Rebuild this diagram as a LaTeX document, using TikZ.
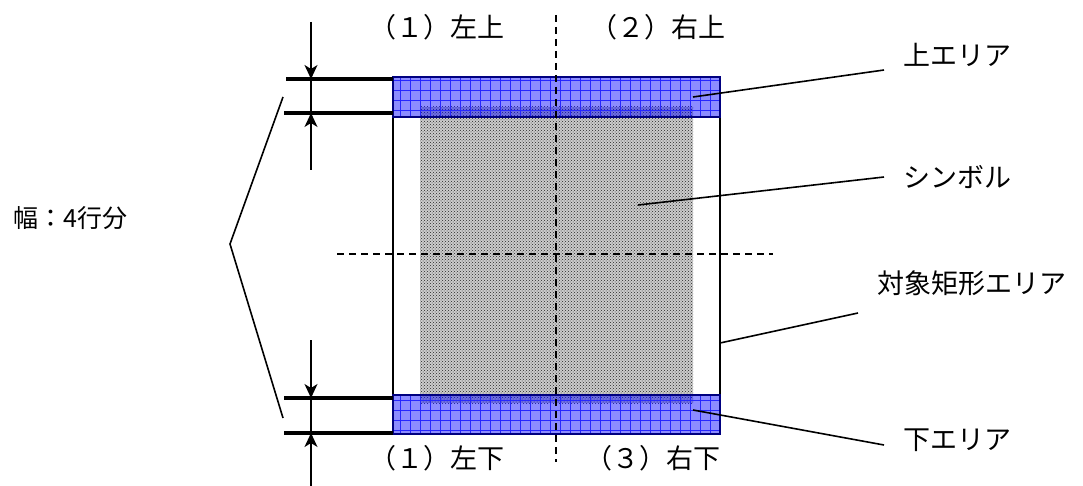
\documentclass[tikz,border=0pt]{standalone}
\usepackage{fontspec}
\newfontfamily\jpfont{Noto Sans CJK JP}
\usetikzlibrary{arrows.meta,patterns}

\tikzset{
  lbl/.style={font=\jpfont\fontsize{27}{32}\selectfont, inner sep=0pt},
  smalllbl/.style={font=\jpfont\fontsize{25}{30}\selectfont, inner sep=0pt},
  dimline/.style={line width=3.2pt},
  dimarrow/.style={line width=1.6pt, -{Stealth[length=14pt,width=13pt,inset=4pt]}},
  leader/.style={line width=1.6pt},
  guide/.style={line width=1.6pt, dash pattern=on 7pt off 5pt},
  bandfill/.style={fill=blue, fill opacity=0.45},
  bandgrid/.style={blue!85, line width=0.45pt, step=10pt},
}

\begin{document}
\begin{tikzpicture}[x=1pt,y=-1pt]
  \useasboundingbox (0,0) rectangle (1083,486);

  % target rectangle and its parts
  \coordinate (TL) at (393,77);
  \coordinate (BR) at (720,434);
  \coordinate (uaBot) at (720,117);
  \coordinate (laTop) at (393,395);

  % symbol
  \fill[gray!40] (420,107) rectangle (693,403);
  \fill[pattern=crosshatch dots, pattern color=black!85] (420,107) rectangle (693,403);

  % upper / lower bands
  \fill[bandfill] (TL) rectangle (uaBot);
  \draw[bandgrid] (TL) grid (uaBot);
  \fill[bandfill] (laTop) rectangle (BR);
  \draw[bandgrid] (laTop) grid (BR);

  \draw[line width=1.6pt] (TL) rectangle (BR);
  \draw[blue!50!black, line width=1.2pt] (TL) rectangle (uaBot);
  \draw[blue!50!black, line width=1.2pt] (laTop) rectangle (BR);

  % center lines
  \draw[guide] (556,15) -- (556,462);
  \draw[guide] (337,254) -- (773,254);

  % width dimension
  \draw[dimline] (286,79) -- (393,79);
  \draw[dimline] (284,113) -- (393,113);
  \draw[dimline] (284,398) -- (393,398);
  \draw[dimline] (284,433) -- (393,433);
  \draw[line width=1.6pt] (311,79) -- (311,113);
  \draw[line width=1.6pt] (311,398) -- (311,433);
  \draw[dimarrow] (311,22) -- (311,79);
  \draw[dimarrow] (311,170) -- (311,113);
  \draw[dimarrow] (311,340) -- (311,398);
  \draw[dimarrow] (311,490) -- (311,433);
  \draw[leader] (283,97) -- (230,244) -- (283,418);

  % labels
  \node[lbl] (ql) at (437,27) {（１）左上};
  \node[lbl] (qr) at (658,27) {（２）右上};
  \node[lbl] (bl) at (437,458) {（１）左下};
  \node[lbl] (br) at (653,458) {（３）右下};
  \node[smalllbl, anchor=west] (wd) at (13,218) {幅：4行分};

  \node[lbl, anchor=west] (ua) at (903,55) {上エリア};
  \node[lbl, anchor=west] (sym) at (903,177) {シンボル};
  \node[lbl, anchor=west] (tgt) at (877,283) {対象矩形エリア};
  \node[lbl, anchor=west] (la) at (903,440) {下エリア};

  % leaders
  \coordinate (uaEnd) at (884,70);
  \coordinate (symEnd) at (884,177);
  \coordinate (tgtEnd) at (858,313);
  \coordinate (laEnd) at (884,445);
  \draw[leader] (693,97) -- (uaEnd);
  \draw[leader] (638,205) -- (symEnd);
  \draw[leader] (720,343) -- (tgtEnd);
  \draw[leader] (693,410) -- (laEnd);
\end{tikzpicture}
\end{document}
